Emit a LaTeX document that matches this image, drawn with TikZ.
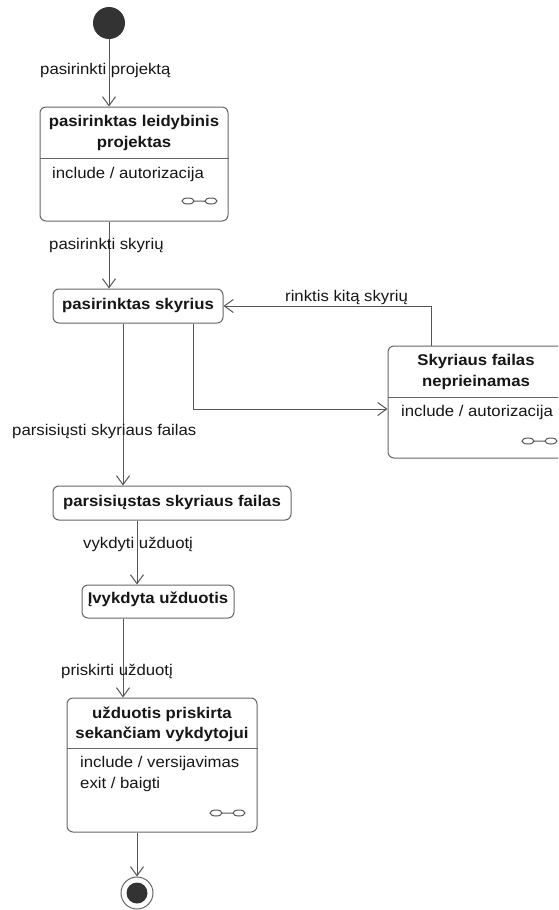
\documentclass[tikz,border=0pt]{standalone}
\usepackage{fontspec}
\setmainfont{Liberation Sans}[FakeStretch=1.08]
\usetikzlibrary{arrows.meta}
\definecolor{txt}{HTML}{161616}
\definecolor{linegray}{HTML}{555555}
\definecolor{boxgray}{HTML}{666666}
\definecolor{dotfill}{HTML}{333333}
\begin{document}
\begin{tikzpicture}[x=1pt,y=-1pt,
  state/.style={draw=boxgray, line width=1pt, rounded corners=6pt, fill=white, inner sep=0pt},
  sep/.style={draw=boxgray, line width=1pt},
  flow/.style={draw=linegray, line width=1pt, -{Straight Barb[length=9pt,width=13pt]}},
  lbl/.style={font=\fontsize{15.5}{18}\selectfont, text=txt, inner sep=0pt, anchor=base west},
  body/.style={font=\fontsize{15.5}{18}\selectfont, text=txt, inner sep=0pt, anchor=base west},
  ttl/.style={font=\fontsize{15.5}{18}\bfseries\selectfont, text=txt, inner sep=0pt, anchor=base},
  linkicon/.pic={\draw[linegray, line width=1pt]
     (6,0) ellipse[x radius=6, y radius=3]
     (12,0) -- (23,0)
     (29,0) ellipse[x radius=6, y radius=3];}
]
\useasboundingbox (0,0) rectangle (558,910);
\clip (0,0) rectangle (558,910);

% lanes used by the vertical connectors
\coordinate (x109) at (109,0);
\coordinate (x123) at (123,0);
\coordinate (x137) at (137,0);
\coordinate (x193) at (193,0);
\coordinate (x431) at (431,0);
\coordinate (y409) at (0,409);

% initial state
\node[circle, fill=dotfill, minimum size=32pt, inner sep=0pt] (start) at (109,23) {};

% state: pasirinktas leidybinis projektas
\node[state, minimum width=188pt, minimum height=114pt] (b1) at (134,164) {};
\coordinate (s1) at (0,158);
\draw[sep] (b1.west |- s1) -- (b1.east |- s1);
\node[ttl] (b1t1) at (134,126.5) {pasirinktas leidybinis};
\node[ttl] (b1t2) at (134,147) {projektas};
\node[body] (b1a) at (52,178) {include / autorizacija};
\pic at (182,201) {linkicon};

% state: pasirinktas skyrius
\node[state, minimum width=170pt, minimum height=34pt] (b2) at (138,306) {};
\node[ttl] (b2t) at (138,309.5) {pasirinktas skyrius};

% state: Skyriaus failas neprieinamas
\node[state, minimum width=178pt, minimum height=112pt] (b3) at (477,402) {};
\coordinate (s3) at (0,397);
\draw[sep] (b3.west |- s3) -- (b3.east |- s3);
\node[ttl] (b3t1) at (476,365) {Skyriaus failas};
\node[ttl] (b3t2) at (476,386) {neprieinamas};
\node[body] (b3a) at (401,416) {include / autorizacija};
\pic at (522,441) {linkicon};

% state: parsisiųstas skyriaus failas
\node[state, minimum width=238pt, minimum height=34pt] (b4) at (172,503) {};
\node[ttl] (b4t) at (172,506.5) {parsisiųstas skyriaus failas};

% state: Įvykdyta užduotis
\node[state, minimum width=152pt, minimum height=33pt] (b5) at (158,601.5) {};
\node[ttl] (b5t) at (158,603) {Įvykdyta užduotis};

% state: užduotis priskirta sekančiam vykdytojui
\node[state, minimum width=190pt, minimum height=134pt] (b6) at (162,765) {};
\coordinate (s6) at (0,748);
\draw[sep] (b6.west |- s6) -- (b6.east |- s6);
\node[ttl] (b6t1) at (162,718) {užduotis priskirta};
\node[ttl] (b6t2) at (162,738.5) {sekančiam vykdytojui};
\node[body] (b6a) at (80,767) {include / versijavimas};
\node[body] (b6b) at (80,788) {exit / baigti};
\pic at (210,813) {linkicon};

% final state
\node[circle, draw=boxgray, line width=1pt, fill=white, minimum size=32pt, inner sep=0pt] (end) at (137,893) {};
\node[circle, fill=dotfill, minimum size=21pt, inner sep=0pt] (endin) at (end.center) {};

% transitions
\draw[flow] (start.south) -- (x109 |- b1.north);
\node[lbl] (l1) at (40,74) {pasirinkti projektą};

\draw[flow] (x109 |- b1.south) -- (x109 |- b2.north);
\node[lbl] (l2) at (49,249) {pasirinkti skyrių};

\draw[flow] (x431 |- b3.north) |- (b2.east);
\node[lbl] (l3) at (285,301) {rinktis kitą skyrių};

\draw[flow] (x193 |- b2.south) |- (b3.west |- y409);

\draw[flow] (x123 |- b2.south) -- (x123 |- b4.north);
\node[lbl] (l4) at (12,435) {parsisiųsti skyriaus failas};

\draw[flow] (x137 |- b4.south) -- (x137 |- b5.north);
\node[lbl] (l5) at (83,548) {vykdyti užduotį};

\draw[flow] (x123 |- b5.south) -- (x123 |- b6.north);
\node[lbl] (l6) at (61,675) {priskirti užduotį};

\draw[flow] (x137 |- b6.south) -- (end.north);
\end{tikzpicture}
\end{document}
